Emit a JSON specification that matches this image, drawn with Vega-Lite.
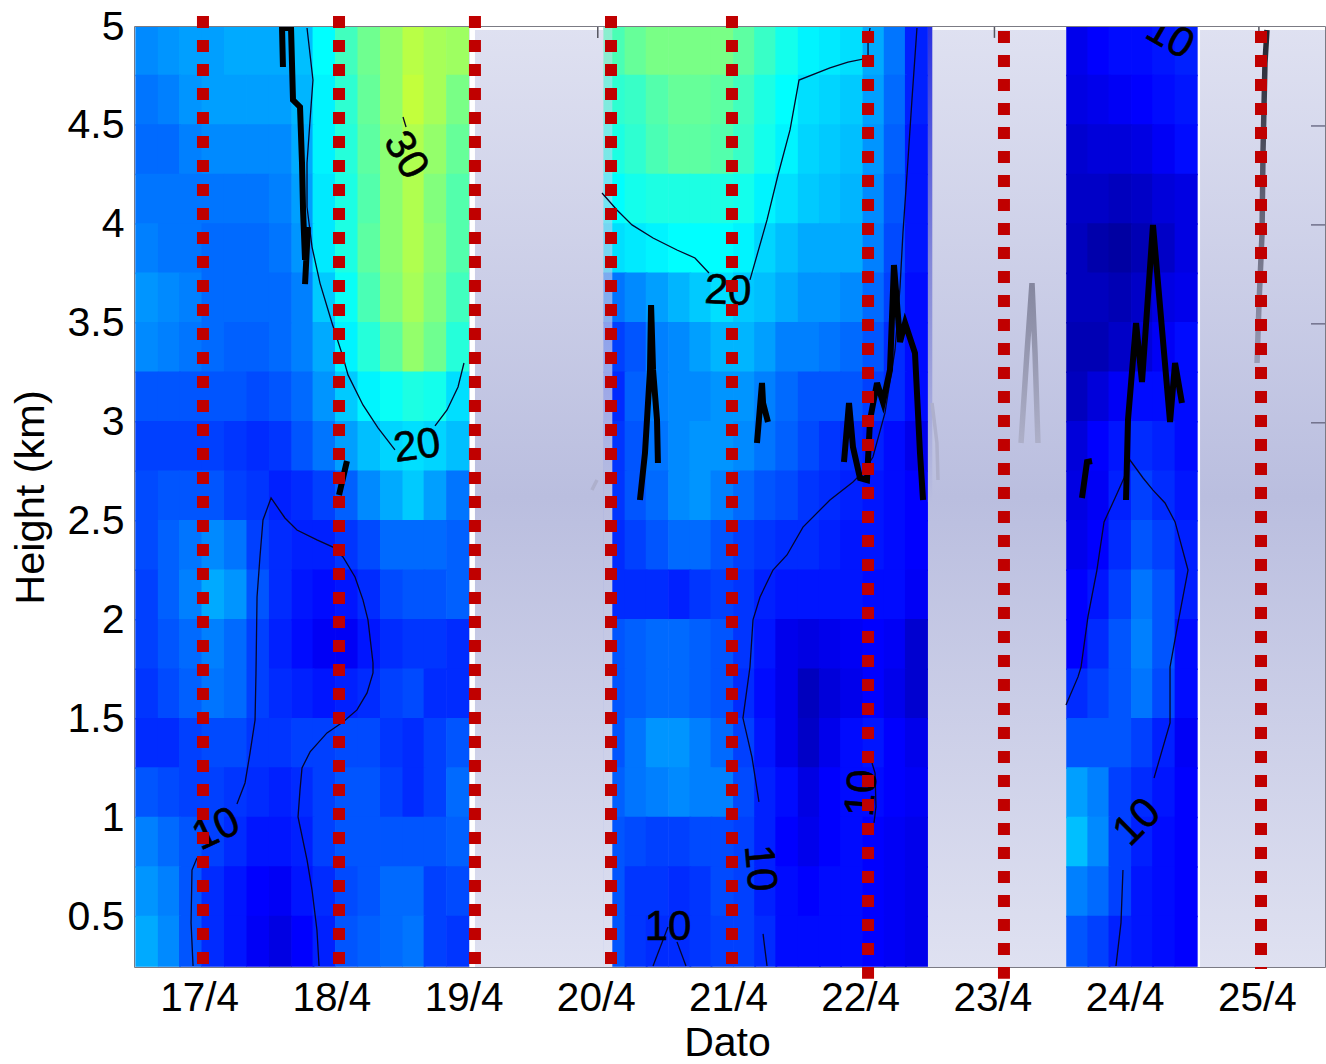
{"$schema":"https://vega.github.io/schema/vega-lite/v6.json","width":1190,"height":940,"autosize":{"type":"none"},"padding":{"left":135,"top":27,"right":1,"bottom":97},"background":"white","view":{"stroke":"#50505c","strokeWidth":1.5},
"encoding":{"x":{"field":"t","type":"quantitative","scale":{"domain":[16.5,25.5],"nice":false,"zero":false},"axis":{"values":[17,18,19,20,21,22,23,24,25],"labelExpr":"datum.value+'/4'","labelFont":"Liberation Sans","labelFontSize":40.5,"labelColor":"#000","labelPadding":11,"labelOffset":-2,"labelOverlap":false,"labelFlush":false,"ticks":false,"domain":false,"grid":false,"title":"Dato","titleFont":"Liberation Sans","titleFontSize":41,"titleFontWeight":"normal","titleColor":"#000","titleX":592,"titlePadding":5}},"y":{"field":"h","type":"quantitative","scale":{"domain":[0.25,5],"nice":false,"zero":false},"axis":{"values":[0.5,1,1.5,2,2.5,3,3.5,4,4.5,5],"labelExpr":"datum.value+''","labelFont":"Liberation Sans","labelFontSize":41,"labelColor":"#000","labelPadding":11,"labelOverlap":false,"labelFlush":false,"ticks":false,"domain":false,"grid":false,"title":"Height (km)","titleFont":"Liberation Sans","titleFontSize":41.5,"titleFontWeight":"normal","titleColor":"#000","titlePadding":15}}},
"datasets":{
"bg":[{"t":16.5,"t2":25.5,"h":0.25,"h2":5}],
"white":[{"t":19.033,"t2":19.071,"h":0.25,"h2":5},{"t":24.532,"t2":24.555,"h":0.25,"h2":5},{"t":19.033,"t2":20.04,"h":4.985,"h2":5},{"t":22.53,"t2":23.541,"h":4.985,"h2":5},{"t":24.532,"t2":25.5,"h":4.985,"h2":5}],
"ovl":[{"t":20.04,"t2":20.11,"h":0.25,"h2":5}],
"ovr":[{"t":22.497,"t2":22.53,"h":2.6,"h2":5}],
"tt":[{"t":20,"h":5,"h2":4.945},{"t":23,"h":5,"h2":4.945},{"t":25,"h":5,"h2":4.945}],
"rt":[{"t":25.394,"t2":25.5,"h":4.5},{"t":25.394,"t2":25.5,"h":4},{"t":25.394,"t2":25.5,"h":3.5},{"t":25.394,"t2":25.5,"h":3}],
"heat":[
{"t":16.59,"h":4.88,"v":15.5},{"t":16.76,"h":4.88,"v":16},{"t":16.92,"h":4.88,"v":16.5},{"t":17.09,"h":4.88,"v":16.5},{"t":17.26,"h":4.88,"v":17},{"t":17.43,"h":4.88,"v":17},{"t":17.6,"h":4.88,"v":17},{"t":17.77,"h":4.88,"v":18},{"t":17.93,"h":4.88,"v":21},{"t":18.1,"h":4.88,"v":24.5},{"t":18.27,"h":4.88,"v":27},{"t":18.44,"h":4.88,"v":29},{"t":18.61,"h":4.88,"v":31},{"t":18.77,"h":4.88,"v":30},{"t":18.94,"h":4.88,"v":29.5},
{"t":20.13,"h":4.88,"v":25},{"t":20.29,"h":4.88,"v":26.5},{"t":20.45,"h":4.88,"v":27.5},{"t":20.62,"h":4.88,"v":27.5},{"t":20.78,"h":4.88,"v":27.5},{"t":20.94,"h":4.88,"v":27.5},{"t":21.11,"h":4.88,"v":26},{"t":21.27,"h":4.88,"v":24},{"t":21.43,"h":4.88,"v":22},{"t":21.6,"h":4.88,"v":20.5},{"t":21.76,"h":4.88,"v":20},{"t":21.92,"h":4.88,"v":19.5},{"t":22.09,"h":4.88,"v":17},{"t":22.25,"h":4.88,"v":14.5},{"t":22.41,"h":4.88,"v":10.5},
{"t":23.63,"h":4.88,"v":8},{"t":23.79,"h":4.88,"v":9},{"t":23.95,"h":4.88,"v":9.5},{"t":24.12,"h":4.88,"v":9.5},{"t":24.28,"h":4.88,"v":10},{"t":24.45,"h":4.88,"v":10.5},
{"t":16.59,"h":4.63,"v":14.5},{"t":16.76,"h":4.63,"v":15},{"t":16.92,"h":4.63,"v":16},{"t":17.09,"h":4.63,"v":16.5},{"t":17.26,"h":4.63,"v":16.5},{"t":17.43,"h":4.63,"v":16.5},{"t":17.6,"h":4.63,"v":16.5},{"t":17.77,"h":4.63,"v":17.5},{"t":17.93,"h":4.63,"v":20.5},{"t":18.1,"h":4.63,"v":23.5},{"t":18.27,"h":4.63,"v":26.5},{"t":18.44,"h":4.63,"v":29},{"t":18.61,"h":4.63,"v":31.5},{"t":18.77,"h":4.63,"v":30},{"t":18.94,"h":4.63,"v":27.5},
{"t":20.13,"h":4.63,"v":23.5},{"t":20.29,"h":4.63,"v":24},{"t":20.45,"h":4.63,"v":25.5},{"t":20.62,"h":4.63,"v":26.5},{"t":20.78,"h":4.63,"v":26.5},{"t":20.94,"h":4.63,"v":26},{"t":21.11,"h":4.63,"v":24.5},{"t":21.27,"h":4.63,"v":22.5},{"t":21.43,"h":4.63,"v":21},{"t":21.6,"h":4.63,"v":19.5},{"t":21.76,"h":4.63,"v":19},{"t":21.92,"h":4.63,"v":18.5},{"t":22.09,"h":4.63,"v":16.5},{"t":22.25,"h":4.63,"v":14},{"t":22.41,"h":4.63,"v":10.5},
{"t":23.63,"h":4.63,"v":7.5},{"t":23.79,"h":4.63,"v":8},{"t":23.95,"h":4.63,"v":8.5},{"t":24.12,"h":4.63,"v":9},{"t":24.28,"h":4.63,"v":9.5},{"t":24.45,"h":4.63,"v":10},
{"t":16.59,"h":4.38,"v":14},{"t":16.76,"h":4.38,"v":14},{"t":16.92,"h":4.38,"v":15},{"t":17.09,"h":4.38,"v":15.5},{"t":17.26,"h":4.38,"v":15.5},{"t":17.43,"h":4.38,"v":15.5},{"t":17.6,"h":4.38,"v":15.5},{"t":17.77,"h":4.38,"v":17},{"t":17.93,"h":4.38,"v":20.5},{"t":18.1,"h":4.38,"v":23},{"t":18.27,"h":4.38,"v":26},{"t":18.44,"h":4.38,"v":28.5},{"t":18.61,"h":4.38,"v":30.5},{"t":18.77,"h":4.38,"v":29},{"t":18.94,"h":4.38,"v":26.5},
{"t":20.13,"h":4.38,"v":22.5},{"t":20.29,"h":4.38,"v":23.5},{"t":20.45,"h":4.38,"v":25},{"t":20.62,"h":4.38,"v":26},{"t":20.78,"h":4.38,"v":26},{"t":20.94,"h":4.38,"v":25.5},{"t":21.11,"h":4.38,"v":24},{"t":21.27,"h":4.38,"v":22},{"t":21.43,"h":4.38,"v":20.5},{"t":21.6,"h":4.38,"v":19},{"t":21.76,"h":4.38,"v":18.5},{"t":21.92,"h":4.38,"v":18},{"t":22.09,"h":4.38,"v":16},{"t":22.25,"h":4.38,"v":13.5},{"t":22.41,"h":4.38,"v":10},
{"t":23.63,"h":4.38,"v":6.5},{"t":23.79,"h":4.38,"v":7},{"t":23.95,"h":4.38,"v":7},{"t":24.12,"h":4.38,"v":7.5},{"t":24.28,"h":4.38,"v":8.5},{"t":24.45,"h":4.38,"v":9.5},
{"t":16.59,"h":4.13,"v":14.5},{"t":16.76,"h":4.13,"v":14.5},{"t":16.92,"h":4.13,"v":14.5},{"t":17.09,"h":4.13,"v":14.5},{"t":17.26,"h":4.13,"v":14.5},{"t":17.43,"h":4.13,"v":14.5},{"t":17.6,"h":4.13,"v":15},{"t":17.77,"h":4.13,"v":16.5},{"t":17.93,"h":4.13,"v":20},{"t":18.1,"h":4.13,"v":22.5},{"t":18.27,"h":4.13,"v":25.5},{"t":18.44,"h":4.13,"v":28.5},{"t":18.61,"h":4.13,"v":30.5},{"t":18.77,"h":4.13,"v":28},{"t":18.94,"h":4.13,"v":25.5},
{"t":20.13,"h":4.13,"v":21},{"t":20.29,"h":4.13,"v":22},{"t":20.45,"h":4.13,"v":22.5},{"t":20.62,"h":4.13,"v":22.5},{"t":20.78,"h":4.13,"v":22.5},{"t":20.94,"h":4.13,"v":22.5},{"t":21.11,"h":4.13,"v":22},{"t":21.27,"h":4.13,"v":20.5},{"t":21.43,"h":4.13,"v":19.5},{"t":21.6,"h":4.13,"v":18.5},{"t":21.76,"h":4.13,"v":18},{"t":21.92,"h":4.13,"v":17.5},{"t":22.09,"h":4.13,"v":15.5},{"t":22.25,"h":4.13,"v":13},{"t":22.41,"h":4.13,"v":10},
{"t":23.63,"h":4.13,"v":6},{"t":23.79,"h":4.13,"v":6},{"t":23.95,"h":4.13,"v":5.5},{"t":24.12,"h":4.13,"v":6},{"t":24.28,"h":4.13,"v":7},{"t":24.45,"h":4.13,"v":7.5},
{"t":16.59,"h":3.88,"v":15},{"t":16.76,"h":3.88,"v":14.5},{"t":16.92,"h":3.88,"v":14.5},{"t":17.09,"h":3.88,"v":14},{"t":17.26,"h":3.88,"v":14},{"t":17.43,"h":3.88,"v":14},{"t":17.6,"h":3.88,"v":14.5},{"t":17.77,"h":3.88,"v":16},{"t":17.93,"h":3.88,"v":20},{"t":18.1,"h":3.88,"v":22.5},{"t":18.27,"h":3.88,"v":26},{"t":18.44,"h":3.88,"v":28.5},{"t":18.61,"h":3.88,"v":30.5},{"t":18.77,"h":3.88,"v":28.5},{"t":18.94,"h":3.88,"v":25.5},
{"t":20.13,"h":3.88,"v":19.5},{"t":20.29,"h":3.88,"v":20},{"t":20.45,"h":3.88,"v":20.5},{"t":20.62,"h":3.88,"v":21},{"t":20.78,"h":3.88,"v":21},{"t":20.94,"h":3.88,"v":21},{"t":21.11,"h":3.88,"v":20.5},{"t":21.27,"h":3.88,"v":19},{"t":21.43,"h":3.88,"v":18},{"t":21.6,"h":3.88,"v":17},{"t":21.76,"h":3.88,"v":17},{"t":21.92,"h":3.88,"v":17},{"t":22.09,"h":3.88,"v":15},{"t":22.25,"h":3.88,"v":12.5},{"t":22.41,"h":3.88,"v":10},
{"t":23.63,"h":3.88,"v":5.5},{"t":23.79,"h":3.88,"v":4.5},{"t":23.95,"h":3.88,"v":4},{"t":24.12,"h":3.88,"v":5},{"t":24.28,"h":3.88,"v":6},{"t":24.45,"h":3.88,"v":7.5},
{"t":16.59,"h":3.63,"v":16},{"t":16.76,"h":3.63,"v":15.5},{"t":16.92,"h":3.63,"v":15},{"t":17.09,"h":3.63,"v":14},{"t":17.26,"h":3.63,"v":14},{"t":17.43,"h":3.63,"v":14},{"t":17.6,"h":3.63,"v":14},{"t":17.77,"h":3.63,"v":15},{"t":17.93,"h":3.63,"v":18.5},{"t":18.1,"h":3.63,"v":21.5},{"t":18.27,"h":3.63,"v":25},{"t":18.44,"h":3.63,"v":28},{"t":18.61,"h":3.63,"v":30},{"t":18.77,"h":3.63,"v":28},{"t":18.94,"h":3.63,"v":24.5},
{"t":20.13,"h":3.63,"v":14.5},{"t":20.29,"h":3.63,"v":15.5},{"t":20.45,"h":3.63,"v":16.5},{"t":20.62,"h":3.63,"v":17.5},{"t":20.78,"h":3.63,"v":18.5},{"t":20.94,"h":3.63,"v":19.5},{"t":21.11,"h":3.63,"v":18.5},{"t":21.27,"h":3.63,"v":18},{"t":21.43,"h":3.63,"v":17},{"t":21.6,"h":3.63,"v":16},{"t":21.76,"h":3.63,"v":16},{"t":21.92,"h":3.63,"v":15.5},{"t":22.09,"h":3.63,"v":14},{"t":22.25,"h":3.63,"v":12},{"t":22.41,"h":3.63,"v":9.5},
{"t":23.63,"h":3.63,"v":5.5},{"t":23.79,"h":3.63,"v":5.5},{"t":23.95,"h":3.63,"v":5},{"t":24.12,"h":3.63,"v":6},{"t":24.28,"h":3.63,"v":7.5},{"t":24.45,"h":3.63,"v":8},
{"t":16.59,"h":3.38,"v":15.5},{"t":16.76,"h":3.38,"v":15},{"t":16.92,"h":3.38,"v":14.5},{"t":17.09,"h":3.38,"v":14},{"t":17.26,"h":3.38,"v":13.5},{"t":17.43,"h":3.38,"v":13.5},{"t":17.6,"h":3.38,"v":14},{"t":17.77,"h":3.38,"v":15},{"t":17.93,"h":3.38,"v":17},{"t":18.1,"h":3.38,"v":20.5},{"t":18.27,"h":3.38,"v":23},{"t":18.44,"h":3.38,"v":26},{"t":18.61,"h":3.38,"v":29},{"t":18.77,"h":3.38,"v":27},{"t":18.94,"h":3.38,"v":23},
{"t":20.13,"h":3.38,"v":12},{"t":20.29,"h":3.38,"v":13},{"t":20.45,"h":3.38,"v":15},{"t":20.62,"h":3.38,"v":15.5},{"t":20.78,"h":3.38,"v":16.5},{"t":20.94,"h":3.38,"v":17.5},{"t":21.11,"h":3.38,"v":17.5},{"t":21.27,"h":3.38,"v":16.5},{"t":21.43,"h":3.38,"v":15},{"t":21.6,"h":3.38,"v":15},{"t":21.76,"h":3.38,"v":14.5},{"t":21.92,"h":3.38,"v":14},{"t":22.09,"h":3.38,"v":13},{"t":22.25,"h":3.38,"v":11},{"t":22.41,"h":3.38,"v":9.5},
{"t":23.63,"h":3.38,"v":5},{"t":23.79,"h":3.38,"v":5},{"t":23.95,"h":3.38,"v":6},{"t":24.12,"h":3.38,"v":7},{"t":24.28,"h":3.38,"v":8.5},{"t":24.45,"h":3.38,"v":9.5},
{"t":16.59,"h":3.13,"v":13},{"t":16.76,"h":3.13,"v":13},{"t":16.92,"h":3.13,"v":13},{"t":17.09,"h":3.13,"v":13},{"t":17.26,"h":3.13,"v":13},{"t":17.43,"h":3.13,"v":12.5},{"t":17.6,"h":3.13,"v":13},{"t":17.77,"h":3.13,"v":14},{"t":17.93,"h":3.13,"v":16},{"t":18.1,"h":3.13,"v":18.5},{"t":18.27,"h":3.13,"v":20.5},{"t":18.44,"h":3.13,"v":21.5},{"t":18.61,"h":3.13,"v":22.5},{"t":18.77,"h":3.13,"v":22},{"t":18.94,"h":3.13,"v":19.5},
{"t":20.13,"h":3.13,"v":11},{"t":20.29,"h":3.13,"v":13.5},{"t":20.45,"h":3.13,"v":15},{"t":20.62,"h":3.13,"v":15.5},{"t":20.78,"h":3.13,"v":15.5},{"t":20.94,"h":3.13,"v":16},{"t":21.11,"h":3.13,"v":16},{"t":21.27,"h":3.13,"v":15},{"t":21.43,"h":3.13,"v":14},{"t":21.6,"h":3.13,"v":13},{"t":21.76,"h":3.13,"v":13},{"t":21.92,"h":3.13,"v":13},{"t":22.09,"h":3.13,"v":12},{"t":22.25,"h":3.13,"v":11},{"t":22.41,"h":3.13,"v":9.5},
{"t":23.63,"h":3.13,"v":5.5},{"t":23.79,"h":3.13,"v":7},{"t":23.95,"h":3.13,"v":8.5},{"t":24.12,"h":3.13,"v":9.5},{"t":24.28,"h":3.13,"v":9.5},{"t":24.45,"h":3.13,"v":9.5},
{"t":16.59,"h":2.88,"v":12},{"t":16.76,"h":2.88,"v":12},{"t":16.92,"h":2.88,"v":12},{"t":17.09,"h":2.88,"v":12},{"t":17.26,"h":2.88,"v":11.5},{"t":17.43,"h":2.88,"v":11},{"t":17.6,"h":2.88,"v":11.5},{"t":17.77,"h":2.88,"v":13},{"t":17.93,"h":2.88,"v":14.5},{"t":18.1,"h":2.88,"v":16.5},{"t":18.27,"h":2.88,"v":18},{"t":18.44,"h":2.88,"v":19},{"t":18.61,"h":2.88,"v":19.5},{"t":18.77,"h":2.88,"v":19},{"t":18.94,"h":2.88,"v":18},
{"t":20.13,"h":2.88,"v":11.5},{"t":20.29,"h":2.88,"v":13},{"t":20.45,"h":2.88,"v":14.5},{"t":20.62,"h":2.88,"v":15.5},{"t":20.78,"h":2.88,"v":16},{"t":20.94,"h":2.88,"v":16},{"t":21.11,"h":2.88,"v":15.5},{"t":21.27,"h":2.88,"v":14.5},{"t":21.43,"h":2.88,"v":13.5},{"t":21.6,"h":2.88,"v":12.5},{"t":21.76,"h":2.88,"v":11.5},{"t":21.92,"h":2.88,"v":11},{"t":22.09,"h":2.88,"v":10.5},{"t":22.25,"h":2.88,"v":9.5},{"t":22.41,"h":2.88,"v":8},
{"t":23.63,"h":2.88,"v":7},{"t":23.79,"h":2.88,"v":9},{"t":23.95,"h":2.88,"v":10},{"t":24.12,"h":2.88,"v":11},{"t":24.28,"h":2.88,"v":10.5},{"t":24.45,"h":2.88,"v":9.5},
{"t":16.59,"h":2.63,"v":12.5},{"t":16.76,"h":2.63,"v":13},{"t":16.92,"h":2.63,"v":13},{"t":17.09,"h":2.63,"v":13},{"t":17.26,"h":2.63,"v":12},{"t":17.43,"h":2.63,"v":11.5},{"t":17.6,"h":2.63,"v":10.5},{"t":17.77,"h":2.63,"v":11},{"t":17.93,"h":2.63,"v":12},{"t":18.1,"h":2.63,"v":13.5},{"t":18.27,"h":2.63,"v":15.5},{"t":18.44,"h":2.63,"v":17},{"t":18.61,"h":2.63,"v":18.5},{"t":18.77,"h":2.63,"v":16.5},{"t":18.94,"h":2.63,"v":14.5},
{"t":20.13,"h":2.63,"v":11.5},{"t":20.29,"h":2.63,"v":13},{"t":20.45,"h":2.63,"v":14},{"t":20.62,"h":2.63,"v":15.5},{"t":20.78,"h":2.63,"v":16},{"t":20.94,"h":2.63,"v":15},{"t":21.11,"h":2.63,"v":14},{"t":21.27,"h":2.63,"v":13},{"t":21.43,"h":2.63,"v":12.5},{"t":21.6,"h":2.63,"v":11.5},{"t":21.76,"h":2.63,"v":11},{"t":21.92,"h":2.63,"v":10.5},{"t":22.09,"h":2.63,"v":10},{"t":22.25,"h":2.63,"v":9.5},{"t":22.41,"h":2.63,"v":9},
{"t":23.63,"h":2.63,"v":7.5},{"t":23.79,"h":2.63,"v":8.5},{"t":23.95,"h":2.63,"v":10.5},{"t":24.12,"h":2.63,"v":12},{"t":24.28,"h":2.63,"v":11},{"t":24.45,"h":2.63,"v":10},
{"t":16.59,"h":2.38,"v":12.5},{"t":16.76,"h":2.38,"v":13.5},{"t":16.92,"h":2.38,"v":14.5},{"t":17.09,"h":2.38,"v":15.5},{"t":17.26,"h":2.38,"v":14.5},{"t":17.43,"h":2.38,"v":12},{"t":17.6,"h":2.38,"v":11},{"t":17.77,"h":2.38,"v":10.5},{"t":17.93,"h":2.38,"v":10.5},{"t":18.1,"h":2.38,"v":11.5},{"t":18.27,"h":2.38,"v":12.5},{"t":18.44,"h":2.38,"v":14},{"t":18.61,"h":2.38,"v":14},{"t":18.77,"h":2.38,"v":14},{"t":18.94,"h":2.38,"v":13.5},
{"t":20.13,"h":2.38,"v":11},{"t":20.29,"h":2.38,"v":12},{"t":20.45,"h":2.38,"v":13},{"t":20.62,"h":2.38,"v":14},{"t":20.78,"h":2.38,"v":14},{"t":20.94,"h":2.38,"v":13},{"t":21.11,"h":2.38,"v":12},{"t":21.27,"h":2.38,"v":11.5},{"t":21.43,"h":2.38,"v":11},{"t":21.6,"h":2.38,"v":11},{"t":21.76,"h":2.38,"v":10.5},{"t":21.92,"h":2.38,"v":10},{"t":22.09,"h":2.38,"v":10},{"t":22.25,"h":2.38,"v":9.5},{"t":22.41,"h":2.38,"v":9},
{"t":23.63,"h":2.38,"v":8},{"t":23.79,"h":2.38,"v":9},{"t":23.95,"h":2.38,"v":11},{"t":24.12,"h":2.38,"v":13},{"t":24.28,"h":2.38,"v":12},{"t":24.45,"h":2.38,"v":10.5},
{"t":16.59,"h":2.13,"v":12},{"t":16.76,"h":2.13,"v":13.5},{"t":16.92,"h":2.13,"v":15},{"t":17.09,"h":2.13,"v":17},{"t":17.26,"h":2.13,"v":16},{"t":17.43,"h":2.13,"v":13},{"t":17.6,"h":2.13,"v":11},{"t":17.77,"h":2.13,"v":10},{"t":17.93,"h":2.13,"v":9.5},{"t":18.1,"h":2.13,"v":10},{"t":18.27,"h":2.13,"v":11},{"t":18.44,"h":2.13,"v":12.5},{"t":18.61,"h":2.13,"v":13},{"t":18.77,"h":2.13,"v":13},{"t":18.94,"h":2.13,"v":13.5},
{"t":20.13,"h":2.13,"v":11},{"t":20.29,"h":2.13,"v":11},{"t":20.45,"h":2.13,"v":11},{"t":20.62,"h":2.13,"v":10.5},{"t":20.78,"h":2.13,"v":11.5},{"t":20.94,"h":2.13,"v":12},{"t":21.11,"h":2.13,"v":11.5},{"t":21.27,"h":2.13,"v":10.5},{"t":21.43,"h":2.13,"v":10},{"t":21.6,"h":2.13,"v":10},{"t":21.76,"h":2.13,"v":10},{"t":21.92,"h":2.13,"v":10},{"t":22.09,"h":2.13,"v":9.5},{"t":22.25,"h":2.13,"v":9.5},{"t":22.41,"h":2.13,"v":8.5},
{"t":23.63,"h":2.13,"v":9},{"t":23.79,"h":2.13,"v":10},{"t":23.95,"h":2.13,"v":12},{"t":24.12,"h":2.13,"v":14.5},{"t":24.28,"h":2.13,"v":13},{"t":24.45,"h":2.13,"v":10.5},
{"t":16.59,"h":1.88,"v":12},{"t":16.76,"h":1.88,"v":13},{"t":16.92,"h":1.88,"v":14},{"t":17.09,"h":1.88,"v":15},{"t":17.26,"h":1.88,"v":14},{"t":17.43,"h":1.88,"v":12},{"t":17.6,"h":1.88,"v":10.5},{"t":17.77,"h":1.88,"v":9.5},{"t":17.93,"h":1.88,"v":8.5},{"t":18.1,"h":1.88,"v":8.5},{"t":18.27,"h":1.88,"v":10},{"t":18.44,"h":1.88,"v":11},{"t":18.61,"h":1.88,"v":11.5},{"t":18.77,"h":1.88,"v":11.5},{"t":18.94,"h":1.88,"v":11},
{"t":20.13,"h":1.88,"v":13},{"t":20.29,"h":1.88,"v":13.5},{"t":20.45,"h":1.88,"v":14},{"t":20.62,"h":1.88,"v":14},{"t":20.78,"h":1.88,"v":13.5},{"t":20.94,"h":1.88,"v":13},{"t":21.11,"h":1.88,"v":11.5},{"t":21.27,"h":1.88,"v":10},{"t":21.43,"h":1.88,"v":8},{"t":21.6,"h":1.88,"v":7.5},{"t":21.76,"h":1.88,"v":8},{"t":21.92,"h":1.88,"v":8.5},{"t":22.09,"h":1.88,"v":9},{"t":22.25,"h":1.88,"v":8.5},{"t":22.41,"h":1.88,"v":6.5},
{"t":23.63,"h":1.88,"v":9},{"t":23.79,"h":1.88,"v":11},{"t":23.95,"h":1.88,"v":13},{"t":24.12,"h":1.88,"v":15},{"t":24.28,"h":1.88,"v":13},{"t":24.45,"h":1.88,"v":9.5},
{"t":16.59,"h":1.63,"v":11.5},{"t":16.76,"h":1.63,"v":12.5},{"t":16.92,"h":1.63,"v":13.5},{"t":17.09,"h":1.63,"v":14.5},{"t":17.26,"h":1.63,"v":14},{"t":17.43,"h":1.63,"v":12},{"t":17.6,"h":1.63,"v":11},{"t":17.77,"h":1.63,"v":10.5},{"t":17.93,"h":1.63,"v":10},{"t":18.1,"h":1.63,"v":10.5},{"t":18.27,"h":1.63,"v":11},{"t":18.44,"h":1.63,"v":12},{"t":18.61,"h":1.63,"v":12.5},{"t":18.77,"h":1.63,"v":11},{"t":18.94,"h":1.63,"v":11},
{"t":20.13,"h":1.63,"v":13},{"t":20.29,"h":1.63,"v":13.5},{"t":20.45,"h":1.63,"v":14},{"t":20.62,"h":1.63,"v":14},{"t":20.78,"h":1.63,"v":13.5},{"t":20.94,"h":1.63,"v":13},{"t":21.11,"h":1.63,"v":11},{"t":21.27,"h":1.63,"v":9.5},{"t":21.43,"h":1.63,"v":8},{"t":21.6,"h":1.63,"v":5.5},{"t":21.76,"h":1.63,"v":7},{"t":21.92,"h":1.63,"v":8},{"t":22.09,"h":1.63,"v":9},{"t":22.25,"h":1.63,"v":8},{"t":22.41,"h":1.63,"v":6.5},
{"t":23.63,"h":1.63,"v":11},{"t":23.79,"h":1.63,"v":12},{"t":23.95,"h":1.63,"v":13},{"t":24.12,"h":1.63,"v":14.5},{"t":24.28,"h":1.63,"v":12.5},{"t":24.45,"h":1.63,"v":9.5},
{"t":16.59,"h":1.38,"v":11},{"t":16.76,"h":1.38,"v":11},{"t":16.92,"h":1.38,"v":12},{"t":17.09,"h":1.38,"v":12.5},{"t":17.26,"h":1.38,"v":12.5},{"t":17.43,"h":1.38,"v":11.5},{"t":17.6,"h":1.38,"v":11.5},{"t":17.77,"h":1.38,"v":12},{"t":17.93,"h":1.38,"v":12},{"t":18.1,"h":1.38,"v":12.5},{"t":18.27,"h":1.38,"v":12.5},{"t":18.44,"h":1.38,"v":11.5},{"t":18.61,"h":1.38,"v":11},{"t":18.77,"h":1.38,"v":12},{"t":18.94,"h":1.38,"v":13},
{"t":20.13,"h":1.38,"v":13},{"t":20.29,"h":1.38,"v":14.5},{"t":20.45,"h":1.38,"v":16},{"t":20.62,"h":1.38,"v":16},{"t":20.78,"h":1.38,"v":15},{"t":20.94,"h":1.38,"v":14},{"t":21.11,"h":1.38,"v":12},{"t":21.27,"h":1.38,"v":10},{"t":21.43,"h":1.38,"v":8},{"t":21.6,"h":1.38,"v":6},{"t":21.76,"h":1.38,"v":8},{"t":21.92,"h":1.38,"v":9.5},{"t":22.09,"h":1.38,"v":10},{"t":22.25,"h":1.38,"v":9},{"t":22.41,"h":1.38,"v":8},
{"t":23.63,"h":1.38,"v":13},{"t":23.79,"h":1.38,"v":13},{"t":23.95,"h":1.38,"v":13},{"t":24.12,"h":1.38,"v":12},{"t":24.28,"h":1.38,"v":10.5},{"t":24.45,"h":1.38,"v":8.5},
{"t":16.59,"h":1.13,"v":13},{"t":16.76,"h":1.13,"v":12.5},{"t":16.92,"h":1.13,"v":12},{"t":17.09,"h":1.13,"v":12},{"t":17.26,"h":1.13,"v":11.5},{"t":17.43,"h":1.13,"v":11},{"t":17.6,"h":1.13,"v":10.5},{"t":17.77,"h":1.13,"v":11},{"t":17.93,"h":1.13,"v":12},{"t":18.1,"h":1.13,"v":13},{"t":18.27,"h":1.13,"v":13},{"t":18.44,"h":1.13,"v":12},{"t":18.61,"h":1.13,"v":11},{"t":18.77,"h":1.13,"v":12},{"t":18.94,"h":1.13,"v":14},
{"t":20.13,"h":1.13,"v":13.5},{"t":20.29,"h":1.13,"v":14.5},{"t":20.45,"h":1.13,"v":15},{"t":20.62,"h":1.13,"v":15.5},{"t":20.78,"h":1.13,"v":15},{"t":20.94,"h":1.13,"v":15},{"t":21.11,"h":1.13,"v":12.5},{"t":21.27,"h":1.13,"v":10.5},{"t":21.43,"h":1.13,"v":9.5},{"t":21.6,"h":1.13,"v":7.5},{"t":21.76,"h":1.13,"v":9},{"t":21.92,"h":1.13,"v":9.5},{"t":22.09,"h":1.13,"v":9.5},{"t":22.25,"h":1.13,"v":9},{"t":22.41,"h":1.13,"v":8.5},
{"t":23.63,"h":1.13,"v":16.5},{"t":23.79,"h":1.13,"v":15},{"t":23.95,"h":1.13,"v":12},{"t":24.12,"h":1.13,"v":11},{"t":24.28,"h":1.13,"v":10},{"t":24.45,"h":1.13,"v":9},
{"t":16.59,"h":0.88,"v":15},{"t":16.76,"h":0.88,"v":14},{"t":16.92,"h":0.88,"v":13},{"t":17.09,"h":0.88,"v":12},{"t":17.26,"h":0.88,"v":11},{"t":17.43,"h":0.88,"v":10},{"t":17.6,"h":0.88,"v":10},{"t":17.77,"h":0.88,"v":10.5},{"t":17.93,"h":0.88,"v":12},{"t":18.1,"h":0.88,"v":13},{"t":18.27,"h":0.88,"v":13},{"t":18.44,"h":0.88,"v":13},{"t":18.61,"h":0.88,"v":13},{"t":18.77,"h":0.88,"v":13},{"t":18.94,"h":0.88,"v":13.5},
{"t":20.13,"h":0.88,"v":13},{"t":20.29,"h":0.88,"v":12.5},{"t":20.45,"h":0.88,"v":12},{"t":20.62,"h":0.88,"v":12},{"t":20.78,"h":0.88,"v":12.5},{"t":20.94,"h":0.88,"v":12.5},{"t":21.11,"h":0.88,"v":12},{"t":21.27,"h":0.88,"v":10.5},{"t":21.43,"h":0.88,"v":9},{"t":21.6,"h":0.88,"v":8},{"t":21.76,"h":0.88,"v":9},{"t":21.92,"h":0.88,"v":9.5},{"t":22.09,"h":0.88,"v":9},{"t":22.25,"h":0.88,"v":8.5},{"t":22.41,"h":0.88,"v":8},
{"t":23.63,"h":0.88,"v":18},{"t":23.79,"h":0.88,"v":15.5},{"t":23.95,"h":0.88,"v":12},{"t":24.12,"h":0.88,"v":10.5},{"t":24.28,"h":0.88,"v":9.5},{"t":24.45,"h":0.88,"v":9},
{"t":16.59,"h":0.63,"v":16},{"t":16.76,"h":0.63,"v":15},{"t":16.92,"h":0.63,"v":13},{"t":17.09,"h":0.63,"v":11},{"t":17.26,"h":0.63,"v":10},{"t":17.43,"h":0.63,"v":9},{"t":17.6,"h":0.63,"v":8.5},{"t":17.77,"h":0.63,"v":10},{"t":17.93,"h":0.63,"v":11},{"t":18.1,"h":0.63,"v":12.5},{"t":18.27,"h":0.63,"v":13},{"t":18.44,"h":0.63,"v":14},{"t":18.61,"h":0.63,"v":14},{"t":18.77,"h":0.63,"v":12},{"t":18.94,"h":0.63,"v":12.5},
{"t":20.13,"h":0.63,"v":13},{"t":20.29,"h":0.63,"v":11.5},{"t":20.45,"h":0.63,"v":11.5},{"t":20.62,"h":0.63,"v":11},{"t":20.78,"h":0.63,"v":11.5},{"t":20.94,"h":0.63,"v":12.5},{"t":21.11,"h":0.63,"v":12},{"t":21.27,"h":0.63,"v":10.5},{"t":21.43,"h":0.63,"v":9.5},{"t":21.6,"h":0.63,"v":9},{"t":21.76,"h":0.63,"v":9.5},{"t":21.92,"h":0.63,"v":9.5},{"t":22.09,"h":0.63,"v":9},{"t":22.25,"h":0.63,"v":8.5},{"t":22.41,"h":0.63,"v":8},
{"t":23.63,"h":0.63,"v":15},{"t":23.79,"h":0.63,"v":14},{"t":23.95,"h":0.63,"v":12},{"t":24.12,"h":0.63,"v":10},{"t":24.28,"h":0.63,"v":9.5},{"t":24.45,"h":0.63,"v":9},
{"t":16.59,"h":0.38,"v":17},{"t":16.76,"h":0.38,"v":15.5},{"t":16.92,"h":0.38,"v":13},{"t":17.09,"h":0.38,"v":11},{"t":17.26,"h":0.38,"v":10},{"t":17.43,"h":0.38,"v":8.5},{"t":17.6,"h":0.38,"v":7.5},{"t":17.77,"h":0.38,"v":9},{"t":17.93,"h":0.38,"v":10.5},{"t":18.1,"h":0.38,"v":13},{"t":18.27,"h":0.38,"v":13.5},{"t":18.44,"h":0.38,"v":14},{"t":18.61,"h":0.38,"v":14.5},{"t":18.77,"h":0.38,"v":12},{"t":18.94,"h":0.38,"v":11.5},
{"t":20.13,"h":0.38,"v":13},{"t":20.29,"h":0.38,"v":11.5},{"t":20.45,"h":0.38,"v":11},{"t":20.62,"h":0.38,"v":11},{"t":20.78,"h":0.38,"v":11.5},{"t":20.94,"h":0.38,"v":12},{"t":21.11,"h":0.38,"v":12},{"t":21.27,"h":0.38,"v":11},{"t":21.43,"h":0.38,"v":9.5},{"t":21.6,"h":0.38,"v":9.5},{"t":21.76,"h":0.38,"v":9.5},{"t":21.92,"h":0.38,"v":9.5},{"t":22.09,"h":0.38,"v":9},{"t":22.25,"h":0.38,"v":8.5},{"t":22.41,"h":0.38,"v":8},
{"t":23.63,"h":0.38,"v":13},{"t":23.79,"h":0.38,"v":12},{"t":23.95,"h":0.38,"v":10.5},{"t":24.12,"h":0.38,"v":10},{"t":24.28,"h":0.38,"v":9.5},{"t":24.45,"h":0.38,"v":9}
],
"thin":[
{"s":"a","i":1,"t":17.801,"h":4.995},{"s":"a","i":2,"t":17.846,"h":4.732},{"s":"a","i":3,"t":17.824,"h":4.53},{"s":"a","i":4,"t":17.801,"h":4.313},{"s":"a","i":5,"t":17.801,"h":4.09},{"s":"a","i":6,"t":17.839,"h":3.888},{"s":"a","i":7,"t":17.899,"h":3.706},{"s":"a","i":8,"t":17.99,"h":3.504},{"s":"a","i":9,"t":18.073,"h":3.333},{"s":"a","i":10,"t":18.111,"h":3.242},{"s":"a","i":11,"t":18.224,"h":3.09},{"s":"a","i":12,"t":18.338,"h":2.974},{"s":"a","i":13,"t":18.466,"h":2.863},
{"s":"b","i":14,"t":18.769,"h":2.984},{"s":"b","i":15,"t":18.86,"h":3.065},{"s":"b","i":16,"t":18.943,"h":3.181},{"s":"b","i":17,"t":18.988,"h":3.302},
{"s":"m","i":18,"t":18.527,"h":4.545},{"s":"m","i":19,"t":18.55,"h":4.495},
{"s":"c","i":20,"t":17.271,"h":1.074},{"s":"c","i":21,"t":17.332,"h":1.18},{"s":"c","i":22,"t":17.37,"h":1.332},{"s":"c","i":23,"t":17.408,"h":1.498},{"s":"c","i":24,"t":17.415,"h":1.736},{"s":"c","i":25,"t":17.423,"h":2.12},{"s":"c","i":26,"t":17.445,"h":2.322},{"s":"c","i":27,"t":17.468,"h":2.509},{"s":"c","i":28,"t":17.529,"h":2.62},{"s":"c","i":29,"t":17.634,"h":2.519},{"s":"c","i":30,"t":17.725,"h":2.458},{"s":"c","i":31,"t":17.876,"h":2.408},{"s":"c","i":32,"t":17.997,"h":2.372},{"s":"c","i":33,"t":18.073,"h":2.322},{"s":"c","i":34,"t":18.164,"h":2.221},{"s":"c","i":35,"t":18.224,"h":2.105},{"s":"c","i":36,"t":18.262,"h":2.004},{"s":"c","i":37,"t":18.3,"h":1.786},{"s":"c","i":38,"t":18.3,"h":1.736},{"s":"c","i":39,"t":18.255,"h":1.635},{"s":"c","i":40,"t":18.179,"h":1.549},{"s":"c","i":41,"t":18.073,"h":1.488},{"s":"c","i":42,"t":17.952,"h":1.433},{"s":"c","i":43,"t":17.824,"h":1.337},{"s":"c","i":44,"t":17.763,"h":1.256},{"s":"c","i":45,"t":17.748,"h":1.145},{"s":"c","i":46,"t":17.733,"h":1.008},{"s":"c","i":47,"t":17.801,"h":0.791},{"s":"c","i":48,"t":17.839,"h":0.639},{"s":"c","i":49,"t":17.876,"h":0.437},{"s":"c","i":50,"t":17.892,"h":0.255},
{"s":"d","i":51,"t":16.939,"h":0.255},{"s":"d","i":52,"t":16.924,"h":0.473},{"s":"d","i":53,"t":16.931,"h":0.74},{"s":"d","i":54,"t":16.969,"h":0.801},
{"s":"e","i":55,"t":20.032,"h":4.161},{"s":"e","i":56,"t":20.145,"h":4.075},{"s":"e","i":57,"t":20.259,"h":4},{"s":"e","i":58,"t":20.418,"h":3.934},{"s":"e","i":59,"t":20.599,"h":3.873},{"s":"e","i":60,"t":20.735,"h":3.833},{"s":"e","i":61,"t":20.841,"h":3.757},
{"s":"f","i":62,"t":21.151,"h":3.722},{"s":"f","i":63,"t":21.28,"h":4.025},{"s":"f","i":64,"t":21.363,"h":4.252},{"s":"f","i":65,"t":21.454,"h":4.48},{"s":"f","i":66,"t":21.522,"h":4.732},{"s":"f","i":67,"t":21.756,"h":4.793},{"s":"f","i":68,"t":21.892,"h":4.823},{"s":"f","i":69,"t":22.044,"h":4.843},{"s":"f","i":70,"t":22.044,"h":4.934},{"s":"f","i":71,"t":22.059,"h":4.995},
{"s":"g","i":72,"t":22.414,"h":4.995},{"s":"g","i":73,"t":22.376,"h":4.631},{"s":"g","i":74,"t":22.346,"h":4.328},{"s":"g","i":75,"t":22.308,"h":3.959},{"s":"g","i":76,"t":22.286,"h":3.686},{"s":"g","i":77,"t":22.248,"h":3.368},{"s":"g","i":78,"t":22.172,"h":3.05},{"s":"g","i":79,"t":22.081,"h":2.827},{"s":"g","i":80,"t":22.021,"h":2.762},{"s":"g","i":81,"t":21.93,"h":2.701},{"s":"g","i":82,"t":21.756,"h":2.61},{"s":"g","i":83,"t":21.552,"h":2.473},{"s":"g","i":84,"t":21.431,"h":2.332},{"s":"g","i":85,"t":21.325,"h":2.256},{"s":"g","i":86,"t":21.227,"h":2.12},{"s":"g","i":87,"t":21.174,"h":2.004},{"s":"g","i":88,"t":21.151,"h":1.766},{"s":"g","i":89,"t":21.098,"h":1.508},{"s":"g","i":90,"t":21.166,"h":1.311},{"s":"g","i":91,"t":21.219,"h":1.084},
{"s":"h","i":92,"t":22.074,"h":1.281},{"s":"h","i":93,"t":22.097,"h":1.23},{"s":"h","i":94,"t":22.104,"h":1.059},{"s":"h","i":95,"t":22.089,"h":0.978},
{"s":"j","i":96,"t":21.25,"h":0.417},{"s":"j","i":97,"t":21.28,"h":0.255},
{"s":"k","i":98,"t":20.418,"h":0.255},{"s":"k","i":99,"t":20.531,"h":0.452},
{"s":"l","i":100,"t":20.599,"h":0.377},{"s":"l","i":101,"t":20.667,"h":0.255},
{"s":"n","i":102,"t":23.541,"h":1.574},{"s":"n","i":103,"t":23.632,"h":1.716},{"s":"n","i":104,"t":23.655,"h":1.766},{"s":"n","i":105,"t":23.707,"h":2.019},{"s":"n","i":106,"t":23.775,"h":2.256},{"s":"n","i":107,"t":23.829,"h":2.499},{"s":"n","i":108,"t":23.912,"h":2.62},{"s":"n","i":109,"t":23.98,"h":2.721},{"s":"n","i":110,"t":24.025,"h":2.812},{"s":"n","i":111,"t":24.124,"h":2.721},{"s":"n","i":112,"t":24.199,"h":2.66},{"s":"n","i":113,"t":24.29,"h":2.595},{"s":"n","i":114,"t":24.366,"h":2.499},{"s":"n","i":115,"t":24.464,"h":2.256},{"s":"n","i":116,"t":24.388,"h":1.988},{"s":"n","i":117,"t":24.328,"h":1.766},{"s":"n","i":118,"t":24.328,"h":1.483},{"s":"n","i":119,"t":24.207,"h":1.205},
{"s":"o","i":120,"t":23.972,"h":0.74},{"s":"o","i":121,"t":23.957,"h":0.473},{"s":"o","i":122,"t":23.919,"h":0.255}
],
"thick":[
{"s":"a","i":1,"t":17.619,"h":4.798},{"s":"a","i":2,"t":17.612,"h":4.995},{"s":"a","i":3,"t":17.68,"h":4.995},{"s":"a","i":4,"t":17.695,"h":4.631},{"s":"a","i":5,"t":17.748,"h":4.596},{"s":"a","i":6,"t":17.763,"h":4.313},{"s":"a","i":7,"t":17.771,"h":4.075},{"s":"a","i":8,"t":17.786,"h":3.823},{"s":"a","i":9,"t":17.808,"h":3.989},{"s":"a","i":10,"t":17.786,"h":3.701},
{"s":"b","i":11,"t":18.103,"h":2.807},{"s":"b","i":12,"t":18.073,"h":2.721},{"s":"b","i":13,"t":18.043,"h":2.635},
{"s":"c","i":14,"t":20.319,"h":2.61},{"s":"c","i":15,"t":20.357,"h":2.847},{"s":"c","i":16,"t":20.395,"h":3.267},{"s":"c","i":17,"t":20.403,"h":3.595},{"s":"c","i":18,"t":20.418,"h":3.267},{"s":"c","i":19,"t":20.448,"h":3.014},{"s":"c","i":20,"t":20.455,"h":2.797},
{"s":"d","i":21,"t":21.204,"h":2.898},{"s":"d","i":22,"t":21.242,"h":3.201},{"s":"d","i":23,"t":21.25,"h":3.1},{"s":"d","i":24,"t":21.287,"h":3.004},
{"s":"e","i":25,"t":21.862,"h":2.802},{"s":"e","i":26,"t":21.9,"h":3.1},{"s":"e","i":27,"t":21.93,"h":2.878},{"s":"e","i":28,"t":21.983,"h":2.721},{"s":"e","i":29,"t":22.036,"h":2.711},{"s":"e","i":30,"t":22.059,"h":3.014},{"s":"e","i":31,"t":22.112,"h":3.201},{"s":"e","i":32,"t":22.157,"h":3.105},{"s":"e","i":33,"t":22.21,"h":3.267},{"s":"e","i":34,"t":22.24,"h":3.797},{"s":"e","i":35,"t":22.286,"h":3.408},{"s":"e","i":36,"t":22.324,"h":3.504},{"s":"e","i":37,"t":22.399,"h":3.353},{"s":"e","i":38,"t":22.437,"h":2.847},{"s":"e","i":39,"t":22.46,"h":2.61},
{"s":"f","i":40,"t":23.738,"h":2.807},{"s":"f","i":41,"t":23.7,"h":2.802},{"s":"f","i":42,"t":23.662,"h":2.62},
{"s":"g","i":43,"t":23.995,"h":2.61},{"s":"g","i":44,"t":24.01,"h":3.014},{"s":"g","i":45,"t":24.071,"h":3.504},{"s":"g","i":46,"t":24.116,"h":3.206},{"s":"g","i":47,"t":24.199,"h":4},{"s":"g","i":48,"t":24.328,"h":3.004},{"s":"g","i":49,"t":24.366,"h":3.302},{"s":"g","i":50,"t":24.418,"h":3.1}
],
"faint":[
{"s":"a","i":1,"t":23.201,"h":2.898},{"s":"a","i":2,"t":23.246,"h":3.353},{"s":"a","i":3,"t":23.284,"h":3.706},{"s":"a","i":4,"t":23.307,"h":3.353},{"s":"a","i":5,"t":23.329,"h":2.898}
],
"fainter":[
{"s":"a","i":1,"t":22.528,"h":3.1},{"s":"a","i":2,"t":22.565,"h":2.898},{"s":"a","i":3,"t":22.573,"h":2.711},
{"s":"b","i":4,"t":19.994,"h":2.711},{"s":"b","i":5,"t":19.956,"h":2.66}
],
"fade":[
{"s":"a","i":1,"t":25.061,"h":4.985},{"s":"a","i":2,"t":25.046,"h":4.818},{"s":"a","i":3,"t":25.031,"h":4.363},{"s":"a","i":4,"t":25.024,"h":3.959},{"s":"a","i":5,"t":25.001,"h":3.605},{"s":"a","i":6,"t":24.986,"h":3.302}
],
"labels":[
{"t":18.55,"h":4.353,"txt":"30","a":60},{"t":18.633,"h":2.883,"txt":"20","a":-8},{"t":20.985,"h":3.666,"txt":"20","a":3},{"t":17.113,"h":0.947,"txt":"10","a":-25},{"t":20.531,"h":0.452,"txt":"10","a":0},{"t":21.227,"h":0.75,"txt":"10","a":85},{"t":21.998,"h":1.129,"txt":"10","a":-85},{"t":24.078,"h":0.983,"txt":"10","a":-45},{"t":24.328,"h":4.95,"txt":"10","a":30}
],
"red":[
{"t":17.014,"h":5.056,"h2":0.265},{"t":18.043,"h":5.056,"h2":0.265},{"t":19.071,"h":5.056,"h2":0.265},{"t":20.1,"h":5.056,"h2":0.265},{"t":21.015,"h":5.056,"h2":0.265},{"t":22.044,"h":4.98,"h2":0.19},{"t":23.072,"h":4.98,"h2":0.19},{"t":25.016,"h":4.98,"h2":0.24}
]},
"layer":[
{"data":{"name":"bg"},"mark":{"type":"rect","fill":{"x1":0,"y1":0,"x2":0,"y2":1,"gradient":"linear","stops":[{"offset":0,"color":"#dfe1f1"},{"offset":0.5,"color":"#babedf"},{"offset":1,"color":"#dfe1f1"}]}},"encoding":{"x2":{"field":"t2"},"y2":{"field":"h2"}}},
{"data":{"name":"white"},"mark":{"type":"rect","fill":"#ffffff"},"encoding":{"x2":{"field":"t2"},"y2":{"field":"h2"}}},
{"data":{"name":"tt"},"mark":{"type":"rule","stroke":"#55555f","strokeWidth":1.5},"encoding":{"y2":{"field":"h2"}}},
{"data":{"name":"rt"},"mark":{"type":"rule","stroke":"#70708a","strokeWidth":1.5},"encoding":{"x2":{"field":"t2"}}},
{"data":{"name":"heat"},"mark":{"type":"rect","width":23,"height":51,"clip":true},"encoding":{"color":{"field":"v","type":"quantitative","legend":null,"scale":{"domain":[3,9,21,34.75,47.5,54],"range":["#00008f","#0000ff","#00ffff","#ffff00","#ff0000","#800000"],"interpolate":"rgb"}}}},
{"data":{"name":"ovl"},"mark":{"type":"rect","fill":{"x1":0,"y1":0,"x2":0,"y2":1,"gradient":"linear","stops":[{"offset":0,"color":"rgba(215,218,238,0.45)"},{"offset":0.25,"color":"rgba(200,204,230,0.6)"},{"offset":0.5,"color":"rgba(186,190,223,1)"},{"offset":1,"color":"rgba(223,225,241,1)"}]}},"encoding":{"x2":{"field":"t2"},"y2":{"field":"h2"}}},
{"data":{"name":"ovr"},"mark":{"type":"rect","fill":{"x1":0,"y1":0,"x2":0,"y2":1,"gradient":"linear","stops":[{"offset":0,"color":"#2a30e0"},{"offset":0.5,"color":"#8488d8"},{"offset":1,"color":"#babedf"}]}},"encoding":{"x2":{"field":"t2"},"y2":{"field":"h2"}}},
{"data":{"name":"thin"},"mark":{"type":"line","stroke":"#06062a","strokeWidth":1.3,"clip":true},"encoding":{"detail":{"field":"s"},"order":{"field":"i","type":"quantitative"}}},
{"data":{"name":"thick"},"mark":{"type":"line","stroke":"#000000","strokeWidth":6,"strokeJoin":"miter","clip":true},"encoding":{"detail":{"field":"s"},"order":{"field":"i","type":"quantitative"}}},
{"data":{"name":"faint"},"mark":{"type":"line","strokeWidth":5.5,"stroke":{"x1":0,"y1":0,"x2":0,"y2":1,"gradient":"linear","stops":[{"offset":0,"color":"#85879f"},{"offset":1,"color":"#adafc8"}]}},"encoding":{"detail":{"field":"s"},"order":{"field":"i","type":"quantitative"}}},
{"data":{"name":"fainter"},"mark":{"type":"line","stroke":"#aeb0cc","strokeWidth":3.5},"encoding":{"detail":{"field":"s"},"order":{"field":"i","type":"quantitative"}}},
{"data":{"name":"fade"},"mark":{"type":"line","strokeWidth":5.5,"stroke":{"x1":0,"y1":0,"x2":0,"y2":1,"gradient":"linear","stops":[{"offset":0,"color":"#24242e"},{"offset":1,"color":"#9a9cb6"}]}},"encoding":{"detail":{"field":"s"},"order":{"field":"i","type":"quantitative"}}},
{"data":{"name":"labels"},"mark":{"type":"text","font":"Liberation Sans","fontSize":42,"color":"#000","stroke":"#000","strokeWidth":0.6,"align":"center","baseline":"middle","clip":true},"encoding":{"text":{"field":"txt"},"angle":{"field":"a","type":"quantitative","scale":null}}},
{"data":{"name":"red"},"mark":{"type":"rule","stroke":"#c00000","strokeWidth":12,"strokeDash":[12,12]},"encoding":{"y2":{"field":"h2"}}}
]}
